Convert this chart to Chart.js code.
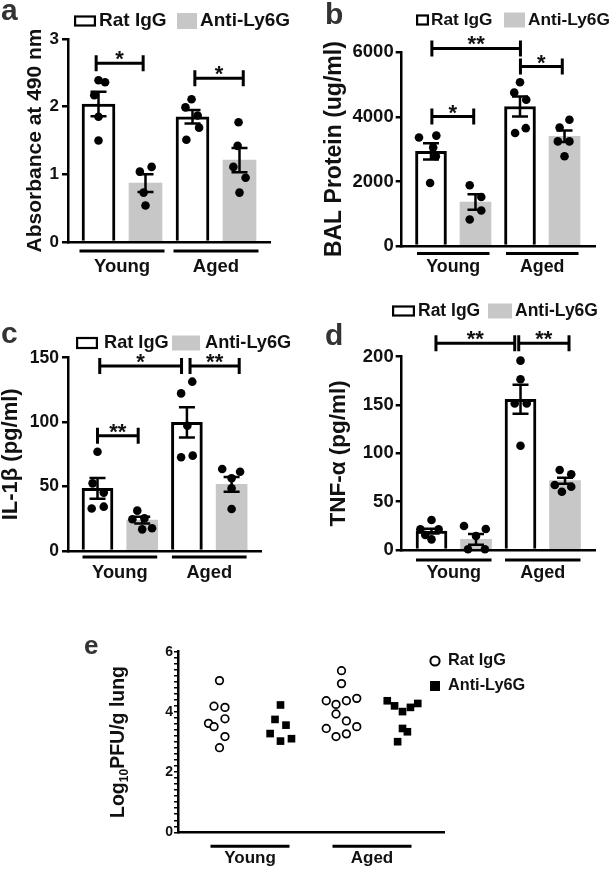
<!DOCTYPE html>
<html>
<head>
<meta charset="utf-8">
<script src="https://cdn.jsdelivr.net/npm/chart.js@4.4.0/dist/chart.umd.min.js"></script>
<style>
  body { margin: 0; background: #fff; }
  #wrap { position: relative; width: 615px; height: 871px; overflow: hidden; }
  #wrap canvas { position: absolute; left: 0; top: 0; }
  .tag { position: absolute; font: bold 30px "Liberation Sans", Arial, sans-serif; line-height: 30px; color: #333; }
</style>
</head>
<body>
<div id="wrap">
  <canvas id="pa" width="615" height="871"></canvas>
  <canvas id="pb" width="615" height="871"></canvas>
  <canvas id="pc" width="615" height="871"></canvas>
  <canvas id="pd" width="615" height="871"></canvas>
  <canvas id="pe" width="615" height="871"></canvas>
  <div class="tag" style="left:1px;top:-5px">a</div>
  <div class="tag" style="left:325px;top:-1px">b</div>
  <div class="tag" style="left:1px;top:318px">c</div>
  <div class="tag" style="left:325px;top:320px">d</div>
  <div class="tag" style="left:84px;top:632px;font-size:26px;line-height:26px">e</div>
</div>
<script>
const groups = ['Young', 'Aged'];
const series = ['Rat IgG', 'Anti-Ly6G'];

// bar order in every panel: Young/Rat IgG, Young/Anti-Ly6G, Aged/Rat IgG, Aged/Anti-Ly6G

// a - absorbance at 490 nm
const aMeans = [2.04, 0.87, 1.85, 1.21];
const aSem = [0.18, 0.13, 0.10, 0.18];
const aPoints = [[2.39, 2.36, 2.17, 1.85, 1.50], [1.11, 1.04, 0.73, 0.54], [2.11, 1.99, 1.87, 1.69, 1.51], [1.77, 1.42, 1.11, 0.95, 0.73]];
const aJitter = [[0, 0.14, -0.09, 0, 0], [0.13, -0.12, -0.04, 0], [-0.02, -0.15, 0.11, 0.14, -0.13], [-0.02, -0.04, -0.13, 0.13, 0]];
const aSig = [[-0.05, 0.95, 2.64, '*'], [2.05, 3.08, 2.42, '*']];

// b - BAL protein
const bMeans = [2930, 1360, 4320, 3400];
const bSem = [250, 240, 310, 175];
const bPoints = [[3360, 3420, 3050, 2780, 1950], [1880, 1520, 1100, 820], [5070, 4750, 4530, 3650, 3500], [3910, 3670, 3240, 3240, 2780]];
const bJitter = [[-0.27, 0.12, 0.05, 0.11, -0.02], [-0.13, 0.13, 0.13, -0.13], [0, -0.13, 0.14, 0.13, -0.11], [0.11, -0.11, -0.15, 0.11, 0]];
const bSig = [[0.02, 2.01, 6120, '**'], [0.02, 0.96, 4010, '*'], [2.01, 2.95, 5560, '*']];

// c - IL-1b
const cMeans = [48.6, 24.0, 99.8, 51.7];
const cSem = [8, 2.6, 11.8, 5.7];
const cPoints = [[77, 52.5, 45.3, 34.4, 33], [31.3, 24.6, 25.3, 17.6, 16.8], [131.4, 122.3, 97.2, 74, 72.7], [63.6, 61.5, 56.5, 48.6, 32.6]];
const cJitter = [[0, -0.11, 0.14, 0.14, -0.13], [-0.11, -0.22, 0.05, 0.22, 0], [0.12, -0.13, 0.01, 0.13, -0.13], [-0.21, 0.19, 0, 0, 0]];
const cSig = [[0.05, 1.88, 143.5, '*'], [2.07, 3.17, 143.5, '**'], [0, 0.91, 89.5, '**']];

// d - TNF-a
const dMeans = [19.5, 11, 156, 71.7];
const dSem = [2.4, 5.5, 15, 3.1];
const dPoints = [[31, 21.4, 21.4, 15.5, 11], [24.8, 21.7, 14.5, 0.7, 0.7], [195.9, 176.6, 151.7, 151.7, 107.9], [82.8, 78.3, 67.3, 65.5, 60.3]];
const dJitter = [[0, -0.25, 0.16, -0.14, 0], [-0.27, 0.22, 0, -0.18, 0.2], [0, 0, -0.13, 0.14, 0], [-0.12, 0.14, -0.23, 0.14, -0.07]];
const dSig = [[0.1, 1.87, 214, '**'], [1.96, 3.09, 214, '**']];

// e - lung viral titre
const ePoints = [
  [5.04, 4.19, 4.15, 3.77, 3.62, 3.51, 3.18, 2.81],
  [4.23, 3.75, 3.56, 3.28, 3.03, 3.11],
  [5.37, 4.94, 4.37, 4.25, 4.37, 4.45, 3.93, 3.70, 3.45, 3.51, 3.18, 3.27],
  [4.37, 4.20, 4.01, 4.15, 4.28, 3.45, 3.34, 3.01]
];
const eJitter = [
  [0, -0.09, 0.09, 0.09, -0.18, -0.09, 0.09, 0],
  [0, -0.09, 0.09, -0.17, 0, 0.18],
  [0, 0, -0.25, -0.09, 0.08, 0.25, -0.09, 0.08, -0.25, 0.25, -0.09, 0.08],
  [-0.25, -0.13, 0, 0.13, 0.25, 0, 0.08, -0.08]
];

const FONT = '"Liberation Sans", Arial, sans-serif';
const GREY = '#c7c7c7';
const INK = '#111';

function bold(size) { return 'bold ' + size + 'px ' + FONT; }

// vertical axis title, '_' toggles subscript
function drawYTitle(ctx, text, cx, cy, size) {
  const segs = text.split('_');
  const fonts = segs.map((s, i) => bold(i % 2 ? size * 0.62 : size));
  ctx.save();
  ctx.translate(cx, cy);
  ctx.rotate(-Math.PI / 2);
  ctx.fillStyle = INK;
  ctx.textAlign = 'left';
  ctx.textBaseline = 'middle';
  let total = 0;
  const widths = segs.map((s, i) => { ctx.font = fonts[i]; const w = ctx.measureText(s).width; total += w; return w; });
  let x = -total / 2;
  segs.forEach((s, i) => {
    ctx.font = fonts[i];
    ctx.fillText(s, x, i % 2 ? size * 0.3 : 0);
    x += widths[i];
  });
  ctx.restore();
}

function drawGroups(chart, L) {
  const ctx = chart.ctx, xs = chart.scales.x, area = chart.chartArea;
  ctx.save();
  ctx.strokeStyle = '#000';
  ctx.lineWidth = 3;
  ctx.fillStyle = INK;
  ctx.font = bold(L.groupSize);
  ctx.textAlign = 'center';
  ctx.textBaseline = 'middle';
  groups.forEach((g, gi) => {
    const x0 = xs.getPixelForValue(gi * 2) - L.k;
    const x1 = xs.getPixelForValue(gi * 2 + 1) + L.k;
    const y = area.bottom + L.ulDy;
    ctx.beginPath();
    ctx.moveTo(x0, y);
    ctx.lineTo(x1, y);
    ctx.stroke();
    ctx.fillText(g, (x0 + x1) / 2, area.bottom + L.lblDy);
  });
  ctx.restore();
}

function axisOpts(L, yMax, yStep) {
  return {
    x: {
      type: 'linear', min: L.xMin, max: L.xMax, offset: false, z: 1,
      grid: { display: false },
      ticks: { display: false },
      border: { display: true, color: '#000', width: 2.5 },
      afterFit: s => { s.height = 0; }
    },
    y: {
      min: 0, max: yMax, z: 1,
      ticks: {
        stepSize: yStep, autoSkip: false, color: INK, padding: L.tickPad,
        font: { family: FONT, size: L.tickSize, weight: 'bold' },
        callback: L.tickCb || (v => v)
      },
      grid: { drawOnChartArea: false, color: '#000', lineWidth: L.tickW, tickLength: L.tickLen },
      border: { color: '#000', width: 2.5 },
      afterFit: s => { s.width = L.yW; }
    }
  };
}

function barPanel(id, means, sem, points, jitter, sig, yMax, yStep, yTitle, L) {
  const datasets = [];
  series.forEach((name, s) => {
    datasets.push({
      type: 'bar', label: name, order: 2, sem: sem,
      data: groups.map((g, gi) => ({ x: gi * 2 + s, y: means[gi * 2 + s] })),
      backgroundColor: s ? GREY : '#fff',
      borderColor: '#000', borderWidth: s ? 0 : 3, borderSkipped: 'start',
      barThickness: L.barW, grouped: false
    });
  });
  points.forEach((col, i) => {
    datasets.push({
      type: 'scatter', label: series[i % 2] + ' ' + groups[i >> 1], order: 0, clip: false,
      data: col.map((v, j) => ({ x: i + jitter[i][j], y: v })),
      pointRadius: 4.3, pointHoverRadius: 4.3, backgroundColor: '#000', borderWidth: 0
    });
  });

  new Chart(document.getElementById(id), {
    type: 'bar',
    data: { datasets },
    options: {
      responsive: false, animation: false, devicePixelRatio: 1,
      layout: { padding: { left: L.l - L.yW, top: L.t, right: 615 - L.r, bottom: 871 - L.b } },
      plugins: { legend: { display: false }, tooltip: { enabled: false } },
      scales: axisOpts(L, yMax, yStep)
    },
    plugins: [{
      id: 'decor',
      afterDatasetDraw(chart, args) {
        const ds = chart.data.datasets[args.index];
        if (ds.type !== 'bar') return;
        const ctx = chart.ctx, xs = chart.scales.x, ys = chart.scales.y;
        ctx.save();
        ctx.strokeStyle = '#000';
        ctx.lineWidth = 2.5;
        ds.data.forEach(p => {
          const x = xs.getPixelForValue(p.x);
          const top = ys.getPixelForValue(p.y + ds.sem[p.x]);
          const bot = ys.getPixelForValue(p.y - ds.sem[p.x]);
          ctx.beginPath();
          ctx.moveTo(x, top); ctx.lineTo(x, bot);
          ctx.moveTo(x - 8, top); ctx.lineTo(x + 8, top);
          ctx.moveTo(x - 8, bot); ctx.lineTo(x + 8, bot);
          ctx.stroke();
        });
        ctx.restore();
      },
      afterDraw(chart) {
        const ctx = chart.ctx, xs = chart.scales.x, ys = chart.scales.y, area = chart.chartArea;
        ctx.save();
        // significance brackets
        sig.forEach(([a, b, v, lab]) => {
          const x0 = xs.getPixelForValue(a), x1 = xs.getPixelForValue(b), y = ys.getPixelForValue(v);
          ctx.strokeStyle = '#000';
          ctx.lineWidth = 3;
          ctx.beginPath();
          ctx.moveTo(x0, y); ctx.lineTo(x1, y);
          ctx.moveTo(x0, y - 8); ctx.lineTo(x0, y + 8);
          ctx.moveTo(x1, y - 8); ctx.lineTo(x1, y + 8);
          ctx.stroke();
          ctx.fillStyle = INK;
          ctx.font = bold(22);
          ctx.textAlign = 'center';
          ctx.textBaseline = 'alphabetic';
          ctx.fillText(lab, (x0 + x1) / 2, y + 3);
        });
        // legend
        series.forEach((name, s) => {
          const [bx, bw, bh, tx] = L.legend[s];
          if (s) {
            ctx.fillStyle = GREY;
            ctx.fillRect(bx, L.legendY - bh / 2, bw, bh);
          } else {
            ctx.strokeStyle = '#000';
            ctx.lineWidth = 2.2;
            ctx.strokeRect(bx + 1.1, L.legendY - bh / 2, bw - 2.2, bh);
          }
          ctx.fillStyle = INK;
          ctx.font = bold(L.legendSize);
          ctx.textAlign = 'left';
          ctx.textBaseline = 'middle';
          ctx.fillText(name, tx, L.legendY);
        });
        ctx.restore();
        drawGroups(chart, L);
        drawYTitle(ctx, yTitle, L.titleX, (area.top + area.bottom) / 2, L.titleSize);
      }
    }]
  });
}

barPanel('pa', aMeans, aSem, aPoints, aJitter, aSig, 3, 1, 'Absorbance at 490 nm', {
  l: 68, t: 39, r: 270, b: 242, yW: 66, xMin: -0.649, xMax: 3.649, barW: 33,
  tickSize: 17, tickPad: 3, tickLen: 6, tickW: 2.5, titleX: 35, titleSize: 21,
  legendY: 21, legendSize: 19, legend: [[74, 22, 9, 99], [177, 20, 16, 200]],
  groupSize: 18.5, k: 19, ulDy: 9, lblDy: 25
});

barPanel('pb', bMeans, bSem, bPoints, bJitter, bSig, 6000, 2000, 'BAL Protein (ug/ml)', {
  l: 401.7, t: 52.3, r: 595, b: 246, yW: 90, xMin: -0.658, xMax: 3.685, barW: 31,
  tickSize: 18.5, tickPad: 2, tickLen: 6, tickW: 2.5, titleX: 335, titleSize: 23,
  legendY: 20, legendSize: 17.3, legend: [[416, 13, 9, 431], [504, 21, 15, 528]],
  groupSize: 17.8, k: 14, ulDy: 7.5, lblDy: 21
});

barPanel('pc', cMeans, cSem, cPoints, cJitter, cSig, 150, 50, 'IL-1β (pg/ml)', {
  l: 68, t: 357.7, r: 261.7, b: 551, yW: 66, xMin: -0.66, xMax: 3.673, barW: 31,
  tickSize: 17.5, tickPad: 3, tickLen: 6, tickW: 2.5, titleX: 11, titleSize: 22,
  legendY: 343, legendSize: 18.2, legend: [[76, 22, 10, 104], [172, 28, 15, 205]],
  groupSize: 18.3, k: 15, ulDy: 6, lblDy: 22
});

barPanel('pd', dMeans, dSem, dPoints, dJitter, dSig, 200, 50, 'TNF-α (pg/ml)', {
  l: 401.7, t: 356.7, r: 595, b: 550, yW: 90, xMin: -0.67, xMax: 3.674, barW: 31,
  tickSize: 18.5, tickPad: 2, tickLen: 6, tickW: 2.5, titleX: 339, titleSize: 22.5,
  legendY: 311, legendSize: 17.5, legend: [[392, 23, 9, 418], [488, 24, 15, 515]],
  groupSize: 18, k: 15.5, ulDy: 10, lblDy: 23
});

// e - scatter only
const eL = {
  l: 178, t: 651.7, r: 444, b: 832.3, yW: 60, xMin: -0.68, xMax: 3.68,
  tickSize: 14, tickPad: 1, tickLen: 4, tickW: 1.5, titleX: 118.5, titleSize: 19.5,
  groupSize: 17, k: 9, ulDy: 14, lblDy: 26.5,
  tickCb: v => (Math.abs(v / 2 - Math.round(v / 2)) < 1e-6 ? Math.round(v) : '')
};

new Chart(document.getElementById('pe'), {
  type: 'scatter',
  data: {
    datasets: series.map((name, s) => ({
      label: name, clip: false,
      data: groups.flatMap((g, gi) => {
        const i = gi * 2 + s;
        return ePoints[i].map((v, j) => ({ x: i + eJitter[i][j], y: v }));
      }),
      pointStyle: s ? 'rect' : 'circle',
      pointRadius: s ? 5.4 : 3.8, pointHoverRadius: s ? 5.4 : 3.8,
      backgroundColor: s ? '#000' : '#fff',
      borderColor: '#000', borderWidth: s ? 0 : 1.7
    }))
  },
  options: {
    responsive: false, animation: false, devicePixelRatio: 1,
    layout: { padding: { left: eL.l - eL.yW, top: eL.t, right: 615 - eL.r, bottom: 871 - eL.b } },
    plugins: { legend: { display: false }, tooltip: { enabled: false } },
    scales: axisOpts(eL, 6, 0.2)
  },
  plugins: [{
    id: 'decorE',
    afterDraw(chart) {
      const ctx = chart.ctx, area = chart.chartArea;
      ctx.save();
      // legend: open circle, filled square
      ctx.strokeStyle = '#000';
      ctx.lineWidth = 2;
      ctx.beginPath();
      ctx.arc(435, 661, 4.6, 0, Math.PI * 2);
      ctx.stroke();
      ctx.fillStyle = '#000';
      ctx.fillRect(430, 681, 10, 10);
      ctx.fillStyle = INK;
      ctx.font = bold(16.3);
      ctx.textAlign = 'left';
      ctx.textBaseline = 'middle';
      ctx.fillText(series[0], 448, 661);
      ctx.fillText(series[1], 448, 686);
      ctx.restore();
      drawGroups(chart, eL);
      drawYTitle(ctx, 'Log_10_PFU/g lung', eL.titleX, (area.top + area.bottom) / 2, eL.titleSize);
    }
  }]
});
</script>
</body>
</html>
